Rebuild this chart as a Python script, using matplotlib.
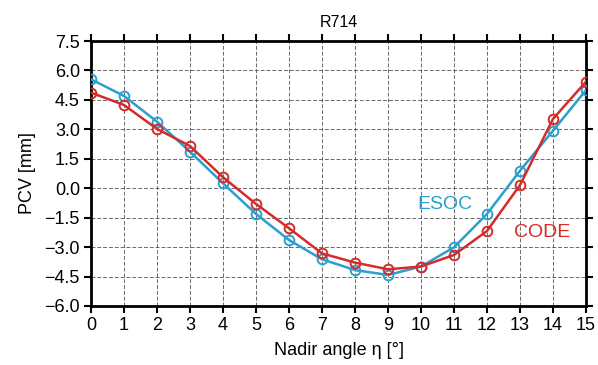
import matplotlib
matplotlib.use("Agg")
import matplotlib.pyplot as plt
from matplotlib.ticker import MultipleLocator

plt.rcParams["font.family"] = ["Liberation Sans", "DejaVu Sans"]

nadir = list(range(16))
esoc = [5.55, 4.70, 3.39, 1.86, 0.25, -1.31, -2.64, -3.62, -4.17, -4.42,
        -3.99, -3.01, -1.31, 0.89, 2.93, 5.00]
code = [4.87, 4.24, 3.02, 2.15, 0.56, -0.80, -2.04, -3.32, -3.79, -4.13,
        -3.99, -3.40, -2.18, 0.16, 3.53, 5.43]
yticks = [7.5, 6.0, 4.5, 3.0, 1.5, 0.0, -1.5, -3.0, -4.5, -6.0]

blue = "#2b9fd0"
red = "#d42b2b"

fig = plt.figure(figsize=(5.98, 3.65), dpi=100)
ax = fig.add_axes([91 / 598, 1 - 306 / 365, 495 / 598, 265 / 365])

ax.plot(nadir, esoc, color=blue, lw=1.8, marker="o", ms=7, mfc="none",
        mew=1.4, zorder=3)
ax.plot(nadir, code, color=red, lw=1.8, marker="o", ms=7, mfc="none",
        mew=1.4, zorder=4)

ax.set_xlim(0, 15)
ax.set_ylim(-6.0, 7.5)
ax.xaxis.set_major_locator(MultipleLocator(1))
ax.set_yticks(yticks)
ax.set_yticklabels([f"{v:.1f}".replace("-", "\u2212") for v in yticks])
ax.grid(True, color="#444444", ls=(0, (4, 2)), lw=0.7, alpha=0.8)
ax.tick_params(direction="out", length=5, width=1.5, labelsize=13,
               top=True, right=True, pad=3)
for side in ax.spines.values():
    side.set_linewidth(2.0)

ax.text(10.73, -0.85, "ESOC", color=blue, fontsize=14, ha="center", va="center")
ax.text(13.67, -2.28, "CODE", color=red, fontsize=14, ha="center", va="center")

ax.set_title("R714", fontsize=11.5, pad=10)
ax.set_xlabel("Nadir angle \u03b7 [\u00b0]", fontsize=13, labelpad=6)
ax.set_ylabel("PCV [mm]", fontsize=13, labelpad=6)

fig.savefig("out.png", dpi=100)
